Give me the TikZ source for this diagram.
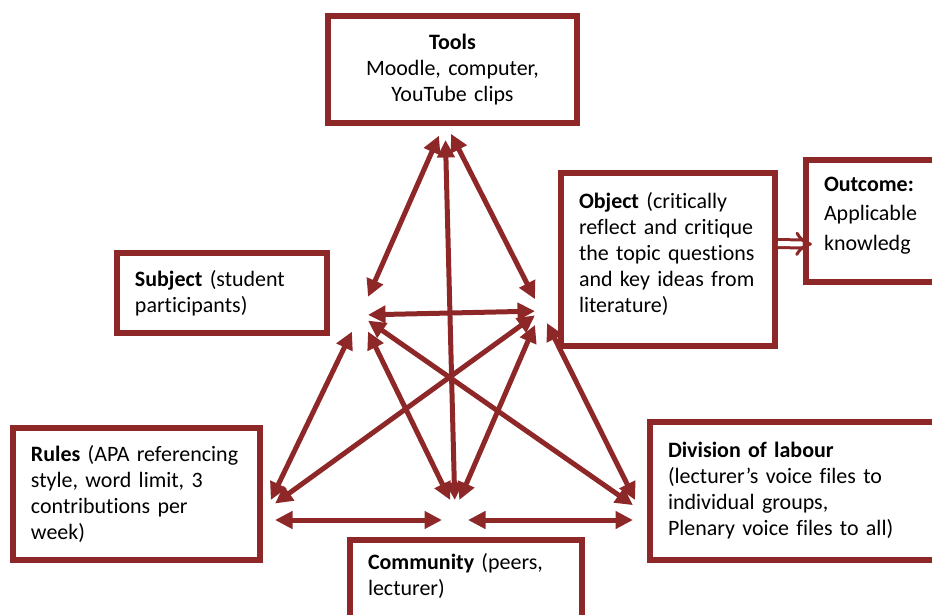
\documentclass[tikz,border=0pt]{standalone}
\usepackage{fontspec}
\setmainfont{Carlito}[Ligatures=NoCommon]
\usetikzlibrary{arrows.meta, positioning}

\definecolor{boxred}{RGB}{142,40,40}
\tikzset{
  box/.style = {draw=boxred, line width=1.2mm, outer sep=0pt, inner xsep=3.6mm, inner ysep=1.8mm, align=left, font=\fontsize{12.5}{14.8}\selectfont},
  hub/.style = {inner sep=0pt, outer sep=0pt},
  link/.style = {draw=boxred, line width=1mm, {Triangle[length=3.5mm, width=3.4mm]}-{Triangle[length=3.5mm, width=3.4mm]}},
  outarrow/.style = {draw=boxred, line width=0.6mm, double=white, double distance=1mm, -{Implies}, shorten <=0.6mm, shorten >=-1.2mm}
}

\begin{document}
\begin{tikzpicture}[x=0.2mm, y=-0.2mm]
  \useasboundingbox (0,0) rectangle (932,614);

  \node[box, align=center, text width=42.6mm, minimum height=21.4mm] (Tools) at (452.5,69.5) {\textbf{Tools}\\ Moodle, computer,\\ YouTube clips};
  \node[box, text width=34.8mm, minimum height=16mm] (Subj) at (222,293) {\textbf{Subject} (student\\ participants)};
  \node[box, text width=35.6mm, inner ysep=3.6mm, text height=3.4mm, text depth=24mm, anchor=north] (Obj) at (668,173) {\textbf{Object} (critically\\ reflect and critique\\ the topic questions\\ and key ideas from\\ literature)};
  \node[box, text width=28.8mm, inner ysep=2.8mm, text height=3.4mm, text depth=15.4mm, anchor=north, font=\fontsize{12.5}{17}\selectfont] (Out) at (896,160) {\textbf{Outcome:}\\ Applicable\\ knowledg};
  \node[box, text width=42.2mm, minimum height=26.4mm] (Rules) at (136.5,494) {\textbf{Rules} (APA referencing\\ style, word limit, 3\\ contributions per\\ week)};
  \node[box, text width=52.8mm, minimum height=27.6mm] (Div) at (800,491) {\textbf{Division of labour}\\ (lecturer’s voice files to\\ individual groups,\\ Plenary voice files to all)};
  \node[box, text width=39.2mm, inner ysep=2.6mm, text depth=20mm, anchor=north] (Comm) at (466,540) {\textbf{Community} (peers,\\ lecturer)};

  \draw[outarrow] ([yshift=3.2mm]Obj.east) -- ([yshift=-4.6mm]Out.west);

  % meeting points of the arrows
  \node[hub, minimum width=2.4mm, minimum height=7.2mm] (T) at (445,122) {};
  \node[hub, minimum width=3.2mm, minimum height=8mm] (L) at (360,315) {};
  \node[hub, minimum width=2.4mm, minimum height=8.8mm] (R) at (541,311) {};
  \node[hub, minimum width=3.6mm, minimum height=4mm] (BL) at (266,510) {};
  \node[hub, minimum width=5.2mm, minimum height=4mm] (B) at (455,510) {};
  \node[hub, minimum width=2.8mm, minimum height=4mm] (BR) at (640,510) {};

  \draw[link] (T) -- (L);
  \draw[link] (T) -- (R);
  \draw[link] (T) -- (B);
  \draw[link] (L) -- (R);
  \draw[link] (L) -- (BL);
  \draw[link] (L) -- (B);
  \draw[link] (L) -- (BR);
  \draw[link] (R) -- (BL);
  \draw[link] (R) -- (B);
  \draw[link] (R) -- (BR);
  \draw[link] (BL.south east) -- (B.south west);
  \draw[link] (B.south east) -- (BR.south west);
\end{tikzpicture}
\end{document}
